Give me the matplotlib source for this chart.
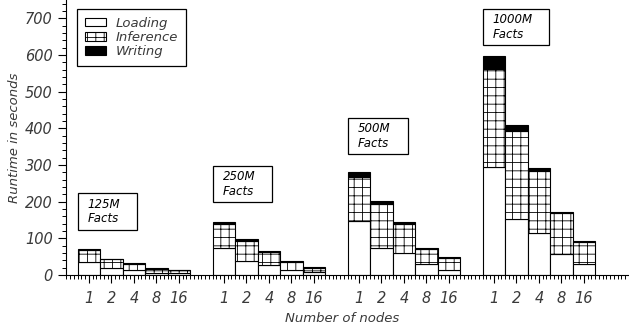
import matplotlib
matplotlib.use('Agg')
import matplotlib.pyplot as plt
from matplotlib.ticker import FixedLocator, MultipleLocator
from matplotlib.patches import Patch, Rectangle
import numpy as np

plt.rcParams.update({'font.size': 10, 'hatch.linewidth': 0.6,
                     'font.style': 'italic'})

# runtime (seconds) per dataset size, for 1, 2, 4, 8, 16 nodes
datasets = ['125M\nFacts', '250M\nFacts', '500M\nFacts', '1000M\nFacts']
nodes = ['1', '2', '4', '8', '16']
loading = [[35, 18, 14, 6, 5],
           [73, 38, 27, 14, 9],
           [148, 75, 59, 29, 15],
           [295, 153, 114, 57, 29]]
inference = [[33, 25, 16, 11, 8],
             [65, 56, 37, 22, 11],
             [118, 118, 80, 43, 31],
             [268, 239, 169, 111, 61]]
writing = [[2, 2, 2, 1, 1],
           [7, 3, 2, 2, 1],
           [15, 9, 6, 2, 3],
           [34, 18, 10, 4, 3]]

# label boxes: (left, bottom, width, height) in data units
label_boxes = [(-0.49, 123, 2.62, 100),
               (5.51, 199, 2.62, 98),
               (11.51, 330, 2.67, 98),
               (17.51, 627, 2.93, 98)]

text_color = '#3a3a3a'

fig = plt.figure(figsize=(6.29, 3.27), dpi=100)
ax = fig.add_axes([0.105, 0.159, 0.895, 0.841])

ticks = []
for g in range(len(datasets)):
    x = g * 6 + np.arange(len(nodes))
    ticks.extend(x)
    ld = np.array(loading[g])
    inf = np.array(inference[g])
    wr = np.array(writing[g])
    ax.bar(x, ld, 1.0, color='white', edgecolor='black', linewidth=0.8)
    ax.bar(x, inf, 1.0, bottom=ld, color='white', edgecolor='black',
           linewidth=0.8, hatch='++')
    ax.bar(x, wr, 1.0, bottom=ld + inf, color='black', edgecolor='black',
           linewidth=0.8)
    # dataset size label in a box above each group
    bx, by, bw, bh = label_boxes[g]
    ax.add_patch(Rectangle((bx, by), bw, bh, fc='white', ec='black',
                           lw=0.9, zorder=3))
    ax.text(bx + 0.44, by + bh / 2, datasets[g], ha='left', va='center',
            fontsize=8.5, color='black', linespacing=1.15, zorder=4)

ax.set_xlim(-1.02, 24)
ax.set_ylim(0, 750)
ax.xaxis.set_major_locator(FixedLocator(ticks))
ax.set_xticklabels(nodes * len(datasets))
ax.xaxis.set_minor_locator(MultipleLocator(1 / 6))
ax.yaxis.set_major_locator(MultipleLocator(100))
ax.yaxis.set_minor_locator(MultipleLocator(20))

ax.spines['top'].set_visible(False)
ax.spines['right'].set_visible(False)
ax.tick_params(which='major', length=5.5, width=0.8, colors='black',
               labelcolor=text_color, labelsize=10.5)
ax.tick_params(which='minor', length=3, width=0.7, colors='black')
ax.tick_params(axis='x', which='major', pad=6)
ax.tick_params(axis='y', which='major', pad=4)

ax.set_ylabel('Runtime in seconds', color=text_color, fontsize=9.5)
ax.set_xlabel('Number of nodes', color=text_color, fontsize=9.5)
ax.xaxis.set_label_coords(0.49, -0.135)
ax.yaxis.set_label_coords(-0.08, 0.5)

handles = [Patch(fc='white', ec='black', lw=0.8, label='Loading'),
           Patch(fc='white', ec='black', lw=0.8, hatch='++',
                 label='Inference'),
           Patch(fc='black', ec='black', lw=0.8, label='Writing')]
leg = ax.legend(handles=handles, loc='upper left',
                bbox_to_anchor=(77 / 629, 1 - 9 / 327),
                bbox_transform=fig.transFigure, fancybox=False,
                edgecolor='black', framealpha=1, fontsize=9.5,
                handlelength=1.6, handleheight=0.6, borderpad=0.6,
                labelspacing=0.08, borderaxespad=0, handletextpad=0.7)
leg.get_frame().set_linewidth(0.9)
for t in leg.get_texts():
    t.set_color(text_color)

fig.savefig('out.png', dpi=100)
